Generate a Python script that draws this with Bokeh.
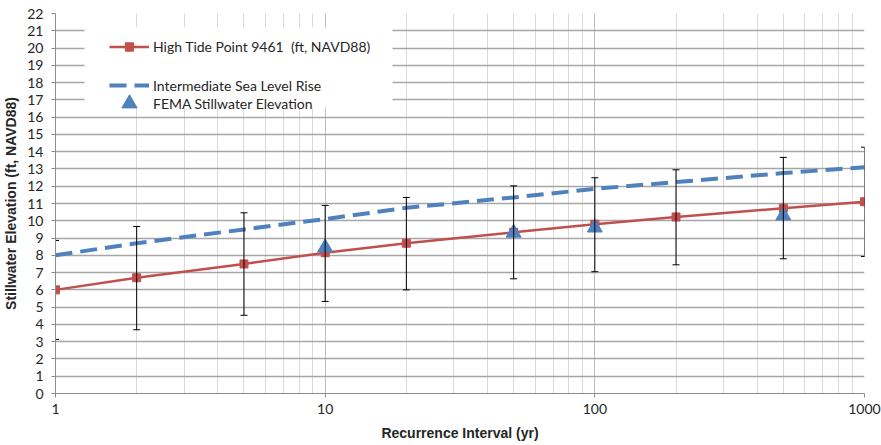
from bokeh.plotting import figure
from bokeh.models import (Range1d, FixedTicker, SingleIntervalTicker, Whisker, TeeHead,
                          ColumnDataSource, Legend, LegendItem, PrintfTickFormatter,
                          BoxAnnotation)
from bokeh.embed import file_html
from bokeh.resources import INLINE

# ---- data ----
return_period = [1, 2, 5, 10, 20, 50, 100, 200, 500, 1000]
high_tide = [6.0, 6.7, 7.5, 8.15, 8.7, 9.33, 9.8, 10.22, 10.73, 11.1]
err_upper = [8.86, 9.67, 10.46, 10.89, 11.35, 12.02, 12.49, 12.95, 13.67, 14.26]
err_lower = [3.13, 3.69, 4.53, 5.33, 6.0, 6.64, 7.05, 7.45, 7.8, 7.93]
sea_level_rise = [8.0, 8.7, 9.5, 10.1, 10.75, 11.35, 11.85, 12.24, 12.76, 13.1]
fema_period = [10, 50, 100, 500]
fema_elev = [8.45, 9.3, 9.6, 10.3]

x_major = [1, 10, 100, 1000]
x_minor = [m * 10 ** e for e in range(3) for m in range(2, 10)]

RED = "#C0504D"
BLUE = "#4F81BD"
TXT = "#262626"

p = figure(width=881, height=445, x_axis_type="log",
           x_range=Range1d(1, 1000), y_range=Range1d(0, 22),
           output_backend="svg", toolbar_location=None,
           min_border_left=53, min_border_right=17, min_border_top=13, min_border_bottom=52,
           outline_line_color=None)

# white legend panel behind the legend entries (screen units, from frame bottom-left)
legend_panel = BoxAnnotation(left=29, right=337, top=366, bottom=286,
                             left_units="screen", right_units="screen",
                             top_units="screen", bottom_units="screen",
                             fill_color="white", fill_alpha=1.0, line_color=None,
                             level="underlay")
p.add_layout(legend_panel)

src = ColumnDataSource(dict(x=return_period, y=high_tide, lo=err_lower, hi=err_upper))

w = Whisker(source=src, base="x", lower="lo", upper="hi", dimension="height",
            line_color="black", line_width=1, level="glyph",
            upper_head=TeeHead(size=7, line_color="black", line_width=1),
            lower_head=TeeHead(size=7, line_color="black", line_width=1))
p.add_layout(w)

r_ht_line = p.line("x", "y", source=src, line_color=RED, line_width=2.5)
r_ht_mark = p.scatter("x", "y", source=src, marker="square", size=8,
                      fill_color=RED, line_color=RED)
r_slr = p.line(return_period, sea_level_rise, line_color=BLUE, line_width=4,
               line_dash="17 8")
r_fema = p.scatter(fema_period, fema_elev, marker="triangle", size=15,
                   fill_color=BLUE, line_color=BLUE)

# axes
p.xaxis.ticker = FixedTicker(ticks=x_major, minor_ticks=x_minor)
p.xaxis.formatter = PrintfTickFormatter(format="%d")
p.yaxis.ticker = SingleIntervalTicker(interval=1, num_minor_ticks=0)

for ax in (p.xaxis[0], p.yaxis[0]):
    ax.axis_line_color = "#8c8c8c"
    ax.major_tick_line_color = "#8c8c8c"
    ax.major_tick_in = 0
    ax.major_tick_out = 4
    ax.minor_tick_in = 0
    ax.minor_tick_out = 0
    ax.major_label_text_font = "Lato"
    ax.major_label_text_font_size = "14px"
    ax.major_label_text_color = TXT
    ax.axis_label_text_font = "Liberation Sans"
    ax.axis_label_text_font_style = "bold"
    ax.axis_label_text_font_size = "14px"
    ax.axis_label_text_color = TXT

p.xaxis.axis_label = "Recurrence Interval (yr)"
p.yaxis.axis_label = "Stillwater Elevation (ft, NAVD88)"
p.xaxis.major_label_standoff = 6
p.xaxis.axis_label_standoff = 8
p.yaxis.major_label_standoff = 8
p.yaxis.axis_label_standoff = 5

# grid
p.xgrid.grid_line_color = "#bfbfbf"
p.xgrid.minor_grid_line_color = "#d9d9d9"
p.ygrid.grid_line_color = "#a6a6a6"
p.ygrid.grid_line_width = 1.5

leg_common = dict(spacing=0, glyph_width=40, label_standoff=4, margin=0,
                  border_line_color=None, label_text_font="Lato",
                  label_text_font_size="14px", label_text_color=TXT,
                  background_fill_alpha=0.0)

legA = Legend(items=[LegendItem(label="High Tide Point 9461  (ft, NAVD88)",
                                renderers=[r_ht_line, r_ht_mark])],
              location=(54, 336), padding=0, glyph_height=21, label_height=21,
              **leg_common)
legB = Legend(items=[LegendItem(label="Intermediate Sea Level Rise", renderers=[r_slr])],
              location=(54, 295), padding=0, glyph_height=26, label_height=26,
              **leg_common)
legC = Legend(items=[LegendItem(label="FEMA Stillwater Elevation", renderers=[r_fema])],
              location=(54, 271), padding=0, glyph_height=38, label_height=38,
              **leg_common)
p.add_layout(legA)
p.add_layout(legB)
p.add_layout(legC)

open("out.html", "w").write(file_html(p, INLINE))
